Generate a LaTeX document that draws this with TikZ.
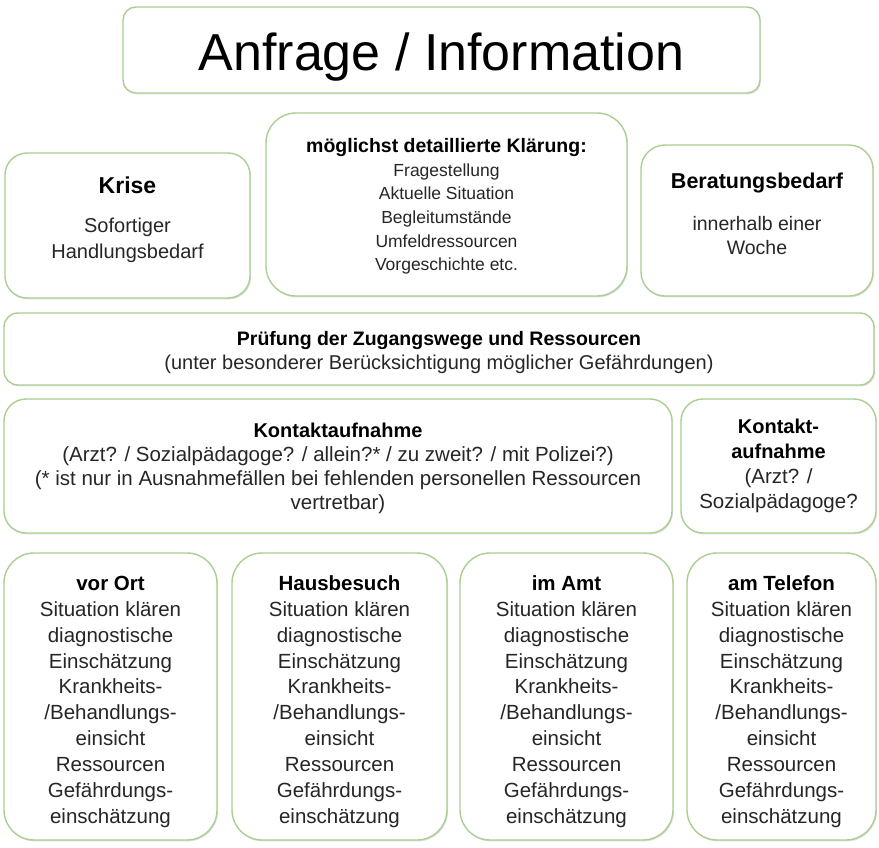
\documentclass[tikz,border=0pt]{standalone}
\usepackage{fontspec}
\setmainfont{Liberation Sans}
\usetikzlibrary{shadows}
\definecolor{boxgreen}{RGB}{170,207,145}
\definecolor{txt}{RGB}{38,38,38}
\tikzset{
  box/.style={draw=boxgreen, line width=1.4pt, fill=white, align=center,
    inner sep=0pt, text=txt,
    drop shadow={shadow xshift=1pt, shadow yshift=-1.4pt, opacity=0.12, fill=black}}
}
\newcommand{\hdr}[2]{{\fontsize{#1}{#1}\selectfont\bfseries\color{black}#2}}
\newcommand{\tp}[1]{\rule{0pt}{#1}}
\newcommand{\bt}[1]{\rule[-#1]{0pt}{0pt}}
\begin{document}
\begin{tikzpicture}[x=1pt,y=-1pt]
\useasboundingbox (0,0) rectangle (879,847);
\fill[white] (0,0) rectangle (879,847);

\node[box, rounded corners=13pt, minimum width=637pt, minimum height=86pt,
  font=\fontsize{52}{60}\selectfont, text=black, text height=40pt, text depth=0pt] (title) at (441.5,50) {Anfrage / Information};

\node[box, rounded corners=22pt, minimum width=245pt, minimum height=145pt,
  font=\fontsize{20}{26}\selectfont] (krise) at (127.5,225.5)
  {\hdr{23}{Krise}\\[13pt]Sofortiger\\Handlungsbedarf\bt{16pt}};

\node[box, rounded corners=30pt, minimum width=361pt, minimum height=183pt,
  font=\fontsize{17.5}{23.6}\selectfont] (klaer) at (446.5,204.5)
  {\tp{18.2pt}\hdr{19.5}{möglichst detaillierte Klärung:}\\Fragestellung\\Aktuelle Situation\\Begleitumstände\\Umfeldressourcen\\Vorgeschichte etc.};

\node[box, rounded corners=24pt, minimum width=232pt, minimum height=151pt,
  font=\fontsize{19.5}{24}\selectfont] (berat) at (757,220.5)
  {\hdr{21.5}{Beratungsbedarf}\\[18pt]innerhalb einer\\Woche\bt{14pt}};

\node[box, rounded corners=14pt, minimum width=870pt, minimum height=72pt,
  font=\fontsize{20}{24}\selectfont] (pruef) at (439,349)
  {\tp{20.2pt}\hdr{19.5}{Prüfung der Zugangswege und Ressourcen}\\(unter besonderer Berücksichtigung möglicher Gefährdungen)};

\node[box, rounded corners=22pt, minimum width=668pt, minimum height=134pt,
  font=\fontsize{20.5}{24}\selectfont] (kontakt) at (338,466)
  {\tp{18.6pt}\hdr{20}{Kontaktaufnahme}\\(Arzt? / Sozialpädagoge? / allein?* / zu zweit? / mit Polizei?)\\(* ist nur in Ausnahmefällen bei fehlenden personellen Ressourcen\\vertretbar)};

\node[box, rounded corners=22pt, minimum width=195pt, minimum height=134pt,
  font=\fontsize{20.5}{25}\selectfont] (kontakt2) at (778.5,466)
  {\hdr{20}{Kontakt-}\\\hdr{20}{aufnahme}\\(Arzt? /\\Sozialpädagoge?};

\foreach \nm/\cx/\w/\hd in {ort/110.5/213/vor Ort, haus/339.5/215/Hausbesuch, amt/566.5/213/im Amt, tel/781.5/189/am Telefon}{
  \node[box, rounded corners=30pt, minimum width=\w pt, minimum height=287pt,
    font=\fontsize{20.5}{25.9}\selectfont] (\nm) at (\cx,696.5)
    {\tp{25pt}\hdr{20.5}{\hd}\\Situation klären\\diagnostische\\Einschätzung\\Krankheits-\\/Behandlungs-\\einsicht\\Ressourcen\\Gefährdungs-\\einschätzung};
}
\end{tikzpicture}
\end{document}
